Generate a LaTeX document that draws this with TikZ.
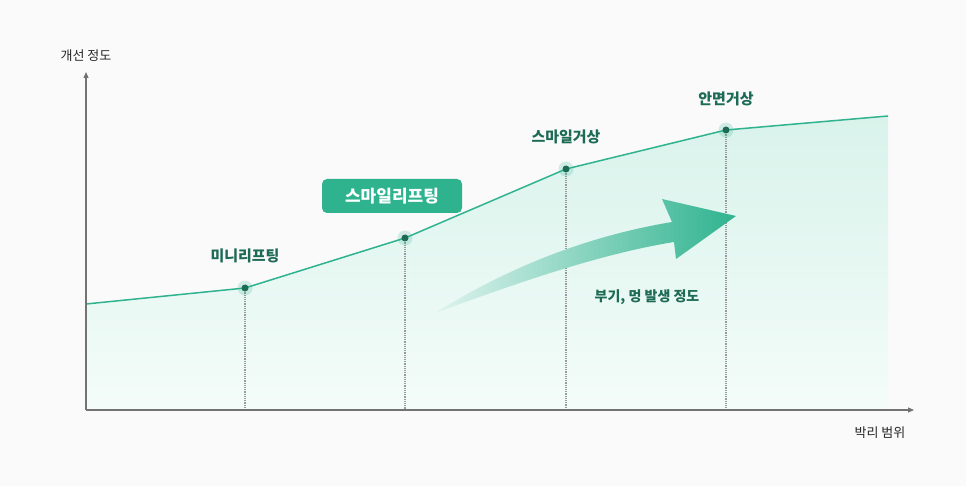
\documentclass[tikz,border=0pt]{standalone}
\usepackage{fontspec}
\setmainfont{Noto Sans CJK KR}
\usetikzlibrary{arrows.meta}
\definecolor{tealc}{HTML}{2FB38F}
\definecolor{darkt}{HTML}{1E6B55}
\definecolor{mint}{HTML}{E3F8F1}
\definecolor{bg}{HTML}{FAFAFA}
\tikzset{
 pt/.style={circle,fill=darkt,inner sep=0pt,minimum size=7pt},
 halo/.style={circle,fill=tealc,fill opacity=0.2,inner sep=0pt,minimum size=15pt},
 lbl/.style={font=\fontsize{15}{17}\selectfont\bfseries,text=darkt},
 guide/.style={densely dotted,gray!80,line width=1.2pt},
 axis/.style={draw=gray!90!black,line width=1.2pt,-{Triangle[length=6pt,width=5pt]}}
}
\begin{document}
\begin{tikzpicture}[x=1pt,y=-1pt]
\fill[bg] (0,0) rectangle (966,486);
\useasboundingbox (0,0) rectangle (966,486);
\coordinate (p0) at (86,304);
\coordinate (p1) at (245,288);
\coordinate (p2) at (405,238);
\coordinate (p3) at (566,169);
\coordinate (p4) at (726,130);
\coordinate (p5) at (888,116);
\shade[top color=mint!80!tealc!60, bottom color=mint!40!white] (p0) -- (p1) -- (p2) -- (p3) -- (p4) -- (p5) -- (888,410) -- (86,410) -- cycle;
\foreach \i in {1,2,3,4} \draw[guide] (p\i) -- (p\i |- 0,410);
\draw[tealc,line width=1.5pt] (p0) -- (p1) -- (p2) -- (p3) -- (p4) -- (p5);
\foreach \i in {1,2,3,4} {\node[halo] at (p\i) {}; \node[pt] (n\i) at (p\i) {};}
\coordinate (o) at (86,410);
\coordinate (ytop) at (86,72);
\coordinate (xend) at (914,410);
\draw[axis] (o) -- (ytop);
\draw[axis] (o) -- (xend);
\node[font=\fontsize{13}{15}\selectfont,text=gray!30!black] (ylab) at (86,56) {개선 정도};
\node[font=\fontsize{13}{15}\selectfont,text=gray!30!black] (xlab) at (880,433) {박리 범위};
\node[lbl] (l1) at (245,256) {미니리프팅};
\node[fill=tealc,rounded corners=5pt,text=white,font=\fontsize{17}{19}\selectfont\bfseries,minimum width=140pt,minimum height=34pt] (l2) at (392,196) {스마일리프팅};
\node[lbl] (l3) at (566,137) {스마일거상};
\node[lbl] (l4) at (726,99) {안면거상};
\node[font=\fontsize{14}{16}\selectfont\bfseries,text=darkt] (l5) at (647,297) {부기, 멍 발생 정도};
\shade[left color=tealc!15, right color=tealc]
 (435,313) .. controls (520,260) and (600,234) .. (672,222)
 -- (662,199) -- (736,216) -- (676,259) -- (674,242)
 .. controls (600,254) and (520,282) .. (435,313) -- cycle;
\end{tikzpicture}
\end{document}
